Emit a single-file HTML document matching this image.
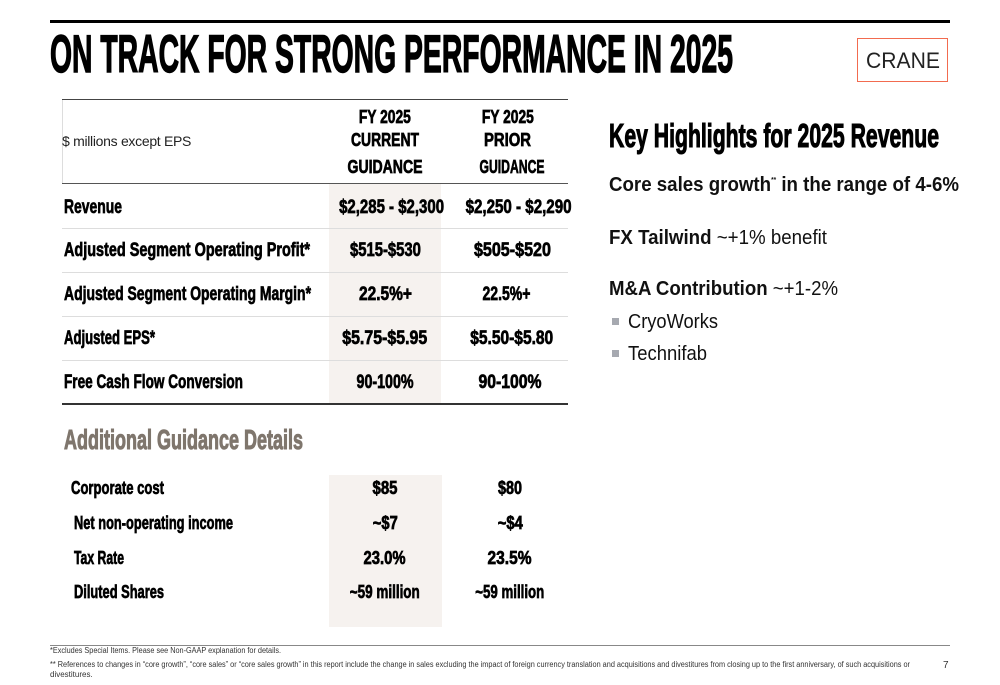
<!DOCTYPE html>
<html><head><meta charset="utf-8">
<style>
*{margin:0;padding:0;box-sizing:border-box}
body{width:1000px;height:685px;background:#fff;position:relative;overflow:hidden;font-family:"Liberation Sans",Arial,sans-serif;color:#000}
.a{position:absolute;white-space:nowrap;line-height:1}
.f{position:absolute;white-space:nowrap;line-height:1}
.f>span{display:inline-block;transform-origin:left center}
.c{text-align:center}
.c>span{transform-origin:center center}
.n{font-family:"Liberation Sans Narrow","Liberation Sans",sans-serif;font-weight:bold;-webkit-text-stroke:0.7px currentColor}
.t{-webkit-text-stroke:1.4px #000}
.r{position:absolute}
</style></head><body>
<div class="r" style="left:50px;top:20px;width:900px;height:3px;background:#000"></div>
<div class="f n t" style="left:50px;top:28px;font-size:53px;--w:683"><span>ON TRACK FOR STRONG PERFORMANCE IN 2025</span></div>
<div class="r" style="left:857px;top:38px;width:91px;height:44px;border:1.5px solid #f26b4f"></div>
<div class="f" style="left:866px;top:50px;font-size:22px;color:#222;--w:74"><span>CRANE</span></div>

<div class="r" style="left:62px;top:99px;width:506px;height:1px;background:#444"></div>
<div class="r" style="left:62px;top:100px;width:1px;height:84px;background:#ddd"></div>
<div class="r" style="left:62px;top:183px;width:506px;height:1px;background:#555"></div>
<div class="r" style="left:329px;top:184px;width:112px;height:219px;background:#f6f2ef"></div>
<div class="r" style="left:62px;top:228px;width:506px;height:1px;background:#ddd"></div>
<div class="r" style="left:62px;top:272px;width:506px;height:1px;background:#ddd"></div>
<div class="r" style="left:62px;top:316px;width:506px;height:1px;background:#ddd"></div>
<div class="r" style="left:62px;top:360px;width:506px;height:1px;background:#ddd"></div>
<div class="r" style="left:62px;top:403px;width:506px;height:1.5px;background:#333"></div>

<div class="a" style="left:62px;top:134px;font-size:14px;color:#222;letter-spacing:-0.3px">$ millions except EPS</div>
<div class="f n c" style="left:345px;width:80px;top:108px;font-size:18px;--w:52"><span>FY 2025</span></div>
<div class="f n c" style="left:340px;width:90px;top:131px;font-size:18px;--w:68"><span>CURRENT</span></div>
<div class="f n c" style="left:335px;width:100px;top:158px;font-size:18px;--w:75"><span>GUIDANCE</span></div>
<div class="f n c" style="left:468px;width:80px;top:108px;font-size:18px;--w:52"><span>FY 2025</span></div>
<div class="f n c" style="left:463px;width:90px;top:131px;font-size:18px;--w:47"><span>PRIOR</span></div>
<div class="f n c" style="left:462px;width:100px;top:158px;font-size:18px;--w:65"><span>GUIDANCE</span></div>

<div class="f n" style="left:64px;top:198px;font-size:19px;--w:58"><span>Revenue</span></div>
<div class="f n" style="left:64px;top:241px;font-size:19px;--w:246"><span>Adjusted Segment Operating Profit*</span></div>
<div class="f n" style="left:64px;top:285px;font-size:19px;--w:247"><span>Adjusted Segment Operating Margin*</span></div>
<div class="f n" style="left:64px;top:329px;font-size:19px;--w:91"><span>Adjusted EPS*</span></div>
<div class="f n" style="left:64px;top:373px;font-size:19px;--w:179"><span>Free Cash Flow Conversion</span></div>

<div class="f n c" style="left:325px;width:120px;top:198px;font-size:19px;--w:105"><span>$2,285 - $2,300</span></div>
<div class="f n c" style="left:325px;width:120px;top:241px;font-size:19px;--w:71"><span>$515-$530</span></div>
<div class="f n c" style="left:325px;width:120px;top:285px;font-size:19px;--w:53"><span>22.5%+</span></div>
<div class="f n c" style="left:325px;width:120px;top:329px;font-size:19px;--w:85"><span>$5.75-$5.95</span></div>
<div class="f n c" style="left:325px;width:120px;top:373px;font-size:19px;--w:57"><span>90-100%</span></div>

<div class="f n c" style="left:452px;width:120px;top:198px;font-size:19px;--w:106"><span>$2,250 - $2,290</span></div>
<div class="f n c" style="left:452px;width:120px;top:241px;font-size:19px;--w:77"><span>$505-$520</span></div>
<div class="f n c" style="left:446px;width:120px;top:285px;font-size:19px;--w:48"><span>22.5%+</span></div>
<div class="f n c" style="left:452px;width:120px;top:329px;font-size:19px;--w:83"><span>$5.50-$5.80</span></div>
<div class="f n c" style="left:450px;width:120px;top:373px;font-size:19px;--w:63"><span>90-100%</span></div>

<div class="f n" style="left:64px;top:426px;font-size:28px;color:#7f766d;--w:239;-webkit-text-stroke:1px #7f766d"><span>Additional Guidance Details</span></div>
<div class="r" style="left:329px;top:475px;width:113px;height:152px;background:#f6f2ef"></div>
<div class="f n" style="left:71px;top:479px;font-size:18px;--w:93"><span>Corporate cost</span></div>
<div class="f n" style="left:74px;top:514px;font-size:18px;--w:159"><span>Net non-operating income</span></div>
<div class="f n" style="left:74px;top:549px;font-size:18px;--w:50"><span>Tax Rate</span></div>
<div class="f n" style="left:74px;top:583px;font-size:18px;--w:90"><span>Diluted Shares</span></div>
<div class="f n c" style="left:335px;width:100px;top:479px;font-size:18px;--w:25"><span>$85</span></div>
<div class="f n c" style="left:335px;width:100px;top:514px;font-size:18px;--w:25"><span>~$7</span></div>
<div class="f n c" style="left:335px;width:100px;top:549px;font-size:18px;--w:42"><span>23.0%</span></div>
<div class="f n c" style="left:335px;width:100px;top:583px;font-size:18px;--w:70"><span>~59 million</span></div>
<div class="f n c" style="left:460px;width:100px;top:479px;font-size:18px;--w:24"><span>$80</span></div>
<div class="f n c" style="left:460px;width:100px;top:514px;font-size:18px;--w:25"><span>~$4</span></div>
<div class="f n c" style="left:460px;width:100px;top:549px;font-size:18px;--w:44"><span>23.5%</span></div>
<div class="f n c" style="left:460px;width:100px;top:583px;font-size:18px;--w:69"><span>~59 million</span></div>

<div class="f n" style="left:609px;top:119px;font-size:33px;--w:330;-webkit-text-stroke:1.1px #000"><span>Key Highlights for 2025 Revenue</span></div>
<div class="f" style="left:609px;top:175px;font-size:20px;font-weight:bold;color:#111;--w:350"><span>Core sales growth<sup style="font-size:7px;vertical-align:9px">**</sup> in the range of 4-6%</span></div>
<div class="f" style="left:609px;top:228px;font-size:20px;color:#111;--w:218"><span><b>FX Tailwind</b> ~+1% benefit</span></div>
<div class="f" style="left:609px;top:279px;font-size:20px;color:#111;--w:229"><span><b>M&amp;A Contribution</b> ~+1-2%</span></div>
<div class="r" style="left:612px;top:318px;width:7px;height:7px;background:#a6a9b0"></div>
<div class="f" style="left:628px;top:312px;font-size:20px;color:#111;--w:90"><span>CryoWorks</span></div>
<div class="r" style="left:612px;top:350px;width:7px;height:7px;background:#a6a9b0"></div>
<div class="f" style="left:628px;top:344px;font-size:20px;color:#111;--w:79"><span>Technifab</span></div>

<div class="r" style="left:50px;top:645px;width:900px;height:1px;background:#888"></div>
<div class="f" style="left:50px;top:647px;font-size:8px;color:#333;--w:231"><span>*Excludes Special Items. Please see Non-GAAP explanation for details.</span></div>
<div class="f" style="left:50px;top:661px;font-size:8px;color:#333;--w:860"><span>** References to changes in “core growth”, “core sales” or “core sales growth” in this report include the change in sales excluding the impact of foreign currency translation and acquisitions and divestitures from closing up to the first anniversary, of such acquisitions or</span></div>
<div class="a" style="left:50px;top:671px;font-size:8px;color:#333">divestitures.</div>
<div class="a" style="left:943px;top:661px;font-size:10px;color:#333">7</div>

<script>
document.querySelectorAll('.f').forEach(function(el){
  var w=parseFloat(getComputedStyle(el).getPropertyValue('--w'));
  var s=el.firstElementChild; if(!w||!s)return;
  var cw=s.getBoundingClientRect().width;
  if(cw>0) s.style.transform='scaleX('+(w/cw)+')';
});
</script>
</body></html>
